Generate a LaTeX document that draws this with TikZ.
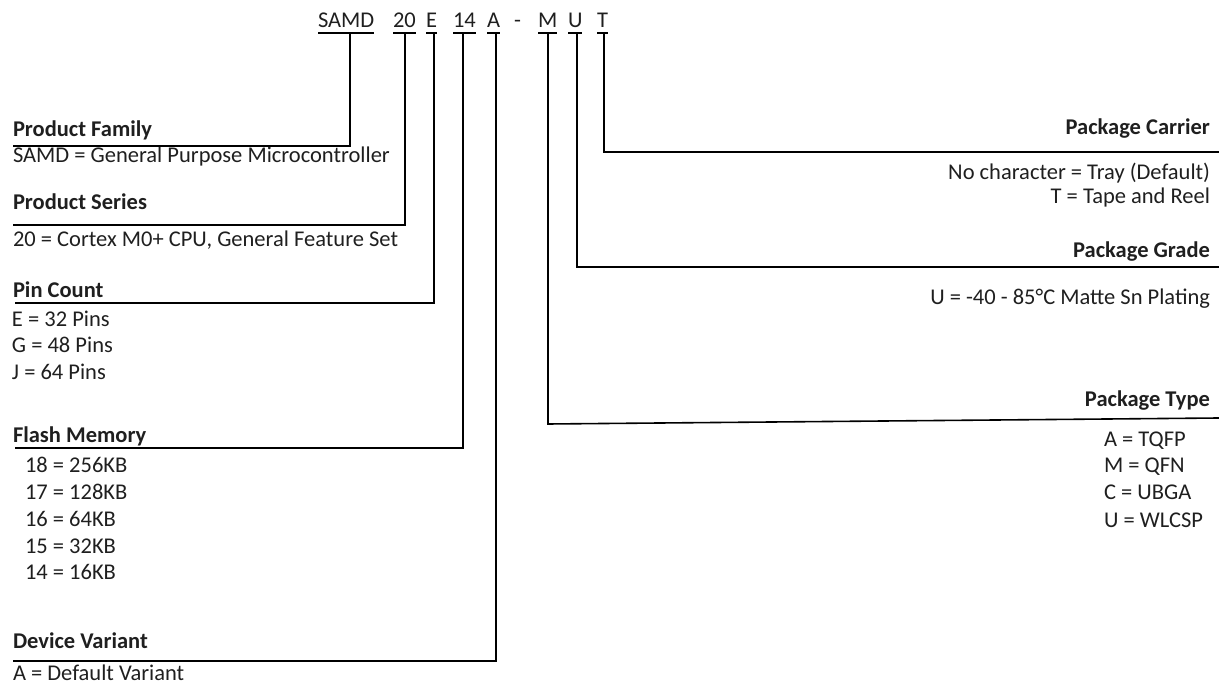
\documentclass[tikz,border=0pt]{standalone}
\usepackage{fontspec}
\setmainfont{Carlito}
\newcommand{\fsz}{\fontsize{22.5}{27}\selectfont}
\begin{document}
\begin{tikzpicture}[x=1pt,y=-1pt,
  every node/.style={inner sep=0pt,outer sep=0pt,font=\fsz,text=black!88},
  lt/.style={anchor=base west},
  rt/.style={anchor=base east},
  head/.style={font=\fsz\bfseries},
  wire/.style={line width=1.6pt,black},
  uline/.style={line width=1.4pt,black}]
\useasboundingbox (0,0) rectangle (1219,684);

% header code segments
\node[lt] (hSAMD) at (318,28) {SAMD};
\node[lt] (h20) at (393,28) {20};
\node[lt] (hE) at (426,28) {E};
\node[lt] (h14) at (453,28) {14};
\node[lt] (hA) at (487,28) {A};
\node[lt] (hdash) at (514,28) {-};
\node[lt] (hM) at (538,28) {M};
\node[lt] (hU) at (568,28) {U};
\node[lt] (hT) at (597,28) {T};
\foreach \n in {hSAMD,h20,hE,h14,hA,hM,hU,hT}
  \draw[uline] ([yshift=-5pt]\n.base west) -- ([yshift=-5pt]\n.base east);

% stems
\coordinate (sSAMD) at (350,33);
\coordinate (s20) at (405,33);
\coordinate (sE) at (434,33);
\coordinate (s14) at (463,33);
\coordinate (sA) at (496,33);
\coordinate (sM) at (548,33);
\coordinate (sU) at (577,33);
\coordinate (sT) at (604,33);

% line ends
\coordinate (eFam) at (13,146);
\coordinate (eSer) at (13,225);
\coordinate (ePin) at (15,303);
\coordinate (eFla) at (15,448);
\coordinate (eVar) at (13,661);
\coordinate (eCar) at (1219,152);
\coordinate (eGra) at (1219,267);
\coordinate (eTyp) at (1219,418);

% left texts
\node[lt,head] (tFam) at (13,137) {Product Family};
\node[lt] (dFam) at (13,163) {SAMD = General Purpose Microcontroller};
\node[lt,head] (tSer) at (13,210) {Product Series};
\node[lt] (dSer) at (13,247) {20 = Cortex M0+ CPU, General Feature Set};
\node[lt,head] (tPin) at (13,298) {Pin Count};
\node[lt] (p1) at (12,327) {E = 32 Pins};
\node[lt] (p2) at (12,353) {G = 48 Pins};
\node[lt] (p3) at (12,380) {J = 64 Pins};
\node[lt,head] (tFla) at (13,443) {Flash Memory};
\node[lt] (f1) at (25,473) {18 = 256KB};
\node[lt] (f2) at (25,500) {17 = 128KB};
\node[lt] (f3) at (25,526) {16 = 64KB};
\node[lt] (f4) at (25,553) {15 = 32KB};
\node[lt] (f5) at (25,579) {14 = 16KB};
\node[lt,head] (tVar) at (13,648) {Device Variant};
\node[lt] (dVar) at (13,680) {A = Default Variant};

% right texts
\node[rt,head] (tCar) at (1210,135) {Package Carrier};
\node[rt] (c1) at (1210,180) {No character = Tray (Default)};
\node[rt] (c2) at (1210,204) {T = Tape and Reel};
\node[rt,head] (tGra) at (1210,258) {Package Grade};
\node[rt] (g1) at (1210,305) {U = -40 - 85°C Matte Sn Plating};
\node[rt,head] (tTyp) at (1210,407) {Package Type};
\node[lt] (y1) at (1104,447) {A = TQFP};
\node[lt] (y2) at (1104,473) {M = QFN};
\node[lt] (y3) at (1104,500) {C = UBGA};
\node[lt] (y4) at (1104,527) {U = WLCSP};

% connectors
\draw[wire] (sSAMD) |- (eFam);
\draw[wire] (s20) |- (eSer);
\draw[wire] (sE) |- (ePin);
\draw[wire] (s14) |- (eFla);
\draw[wire] (sA) |- (eVar);
\draw[wire] (sT) |- (eCar);
\draw[wire] (sU) |- (eGra);
\draw[wire] (sM) -- (548,424) -- (eTyp);
\end{tikzpicture}
\end{document}
